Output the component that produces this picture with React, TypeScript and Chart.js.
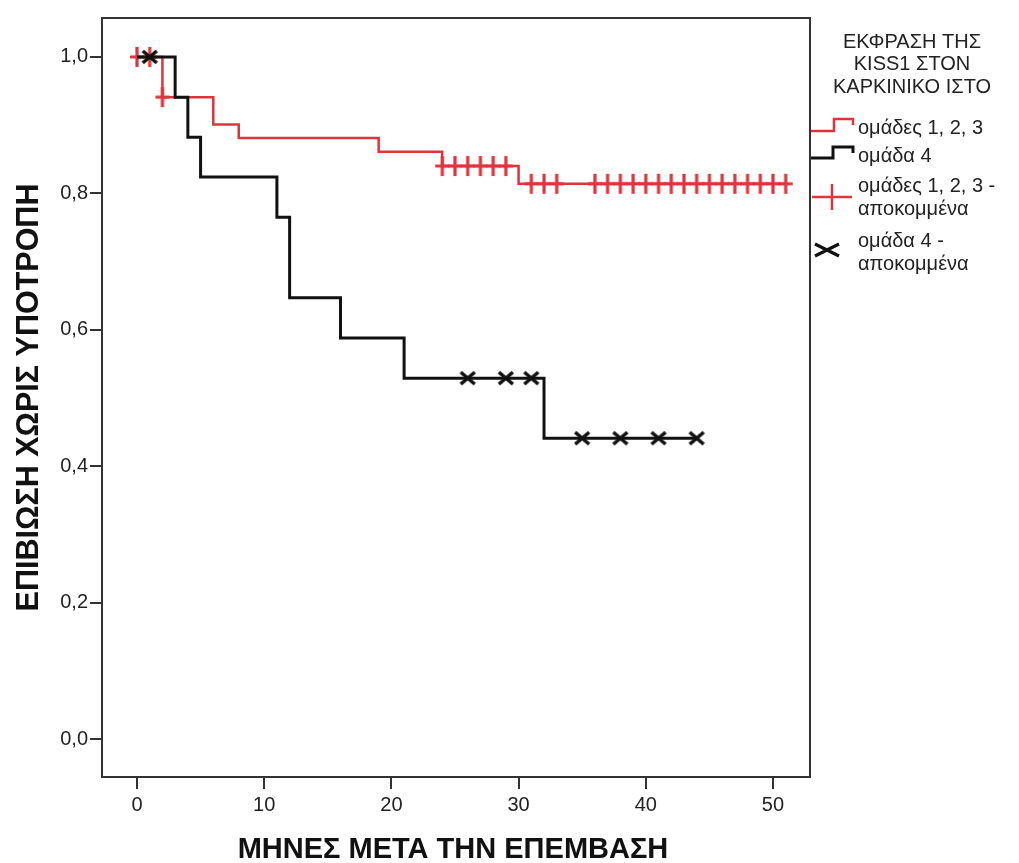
import { useEffect, useRef } from "react";
import { Chart, registerables } from "chart.js";

Chart.register(...registerables);

const xTickValues = [0, 10, 20, 30, 40, 50];
const yTickValues = [0, 0.2, 0.4, 0.6, 0.8, 1.0];

const redTimes = [0, 2, 6, 8, 19, 24, 30, 51];
const redSurvival = [1, 0.941, 0.901, 0.881, 0.861, 0.84, 0.814, 0.814];

const blackTimes = [0, 3, 4, 5, 11, 12, 16, 21, 32, 44];
const blackSurvival = [1, 0.941, 0.882, 0.824, 0.765, 0.647, 0.588, 0.529, 0.441, 0.441];

const redCensorTimes = [0, 1, 2, 24, 25, 26, 27, 28, 29, 31, 32, 33, 36, 37, 38, 39, 40, 41, 42, 43, 44, 45, 46, 47, 48, 49, 50, 51];
const redCensorSurvival = [1, 1, 0.941, 0.84, 0.84, 0.84, 0.84, 0.84, 0.84, 0.814, 0.814, 0.814, 0.814, 0.814, 0.814, 0.814, 0.814, 0.814, 0.814, 0.814, 0.814, 0.814, 0.814, 0.814, 0.814, 0.814, 0.814, 0.814];

const blackCensorTimes = [1, 26, 29, 31, 35, 38, 41, 44];
const blackCensorSurvival = [1, 0.529, 0.529, 0.529, 0.441, 0.441, 0.441, 0.441];

const xAxisTitle = "ΜΗΝΕΣ ΜΕΤΑ ΤΗΝ ΕΠΕΜΒΑΣΗ";
const yAxisTitle = "ΕΠΙΒΙΩΣΗ ΧΩΡΙΣ ΥΠΟΤΡΟΠΗ";
const legendTitleLines = ["ΕΚΦΡΑΣΗ ΤΗΣ", "KISS1 ΣΤΟΝ", "ΚΑΡΚΙΝΙΚΟ ΙΣΤΟ"];
const legendRedLine = "ομάδες 1, 2, 3";
const legendBlackLine = "ομάδα 4";
const legendRedCensor = ["ομάδες 1, 2, 3 -", "αποκομμένα"];
const legendBlackCensor = ["ομάδα 4 -", "αποκομμένα"];

const RED = "rgb(222,52,62)";
const BLACK = "#111";
const FONT = "'Liberation Sans', Arial, sans-serif";

function makePlus(): HTMLCanvasElement {
  const c = document.createElement("canvas");
  c.width = 16;
  c.height = 22;
  const g = c.getContext("2d")!;
  g.strokeStyle = RED;
  g.lineWidth = 3.2;
  g.beginPath();
  g.moveTo(8, 1);
  g.lineTo(8, 21);
  g.moveTo(1, 11);
  g.lineTo(15, 11);
  g.stroke();
  return c;
}

function makeX(): HTMLCanvasElement {
  const c = document.createElement("canvas");
  c.width = 18;
  c.height = 16;
  const g = c.getContext("2d")!;
  g.strokeStyle = BLACK;
  g.lineWidth = 3.6;
  g.beginPath();
  g.moveTo(2, 2);
  g.lineTo(16, 14);
  g.moveTo(16, 2);
  g.lineTo(2, 14);
  g.stroke();
  return c;
}

const pts = (xs: number[], ys: number[]) => xs.map((x, i) => ({ x, y: ys[i] }));

const decorPlugin = {
  id: "decor",
  beforeDatasetsDraw(chart: any) {
    const { ctx, chartArea } = chart;
    ctx.save();
    ctx.strokeStyle = "#333";
    ctx.lineWidth = 2;
    ctx.strokeRect(chartArea.left, chartArea.top, chartArea.right - chartArea.left, chartArea.bottom - chartArea.top);
    ctx.restore();
  },
  afterDraw(chart: any) {
    const { ctx, chartArea } = chart;
    ctx.save();
    ctx.fillStyle = "#111";
    ctx.textAlign = "center";
    ctx.textBaseline = "middle";
    ctx.font = `bold 29px ${FONT}`;
    ctx.fillText(xAxisTitle, (chartArea.left + chartArea.right) / 2 - 3, 850);
    ctx.save();
    ctx.font = `bold 30.5px ${FONT}`;
    ctx.translate(30, (chartArea.top + chartArea.bottom) / 2);
    ctx.rotate(-Math.PI / 2);
    ctx.fillText(yAxisTitle, 0, 0);
    ctx.restore();

    ctx.font = `20px ${FONT}`;
    ctx.fillStyle = "#222";
    legendTitleLines.forEach((t, i) => ctx.fillText(t, 912, 42 + i * 22.7));

    ctx.textAlign = "left";
    const tx = 858;
    ctx.fillText(legendRedLine, tx, 128);
    ctx.fillText(legendBlackLine, tx, 156);
    ctx.fillText(legendRedCensor[0], tx, 186);
    ctx.fillText(legendRedCensor[1], tx, 209);
    ctx.fillText(legendBlackCensor[0], tx, 241);
    ctx.fillText(legendBlackCensor[1], tx, 264);

    ctx.lineWidth = 2.5;
    ctx.strokeStyle = RED;
    ctx.beginPath();
    ctx.moveTo(811, 131);
    ctx.lineTo(834, 131);
    ctx.lineTo(834, 119);
    ctx.lineTo(853, 119);
    ctx.lineTo(853, 125);
    ctx.stroke();

    ctx.lineWidth = 3;
    ctx.strokeStyle = BLACK;
    ctx.beginPath();
    ctx.moveTo(811, 158);
    ctx.lineTo(833, 158);
    ctx.lineTo(833, 147);
    ctx.lineTo(853, 147);
    ctx.lineTo(853, 153);
    ctx.stroke();

    ctx.strokeStyle = RED;
    ctx.lineWidth = 2.5;
    ctx.beginPath();
    ctx.moveTo(812, 197);
    ctx.lineTo(852, 197);
    ctx.moveTo(832, 184);
    ctx.lineTo(832, 210);
    ctx.stroke();

    ctx.strokeStyle = BLACK;
    ctx.lineWidth = 3.2;
    ctx.beginPath();
    ctx.moveTo(815, 244);
    ctx.lineTo(839, 256);
    ctx.moveTo(839, 244);
    ctx.lineTo(815, 256);
    ctx.stroke();

    ctx.restore();
  },
};

export default function App() {
  const ref = useRef<HTMLCanvasElement | null>(null);

  useEffect(() => {
    if (!ref.current) return;
    const plus = makePlus();
    const cross = makeX();
    const chart = new Chart(ref.current, {
      type: "line",
      data: {
        datasets: [
          {
            label: "black-censor",
            data: pts(blackCensorTimes, blackCensorSurvival),
            showLine: false,
            pointStyle: cross as any,
            pointRadius: 8,
            order: 0,
          },
          {
            label: "black",
            data: pts(blackTimes, blackSurvival),
            stepped: true,
            borderColor: BLACK,
            borderWidth: 3,
            pointRadius: 0,
            fill: false,
            order: 1,
          },
          {
            label: "red-censor",
            data: pts(redCensorTimes, redCensorSurvival),
            showLine: false,
            pointStyle: plus as any,
            pointRadius: 8,
            order: 2,
          },
          {
            label: "red",
            data: pts(redTimes, redSurvival),
            stepped: true,
            borderColor: RED,
            borderWidth: 2.5,
            pointRadius: 0,
            fill: false,
            order: 3,
          },
        ],
      },
      options: {
        responsive: false,
        animation: false,
        events: [],
        layout: { padding: { left: 0, top: 18, right: 209, bottom: 0 } },
        plugins: { legend: { display: false }, tooltip: { enabled: false } },
        scales: {
          x: {
            type: "linear",
            min: -2.75,
            max: 52.91,
            afterBuildTicks: (s: any) => {
              s.ticks = xTickValues.map((v) => ({ value: v }));
            },
            afterFit: (s: any) => {
              s.height = 86;
            },
            grid: { display: true, drawOnChartArea: false, drawTicks: true, tickLength: 12, color: "#333", lineWidth: 2 },
            border: { display: false },
            ticks: {
              color: "#222",
              font: { family: FONT, size: 20 },
              padding: 4,
              maxRotation: 0,
              callback: (v: any) => String(v),
            },
          },
          y: {
            type: "linear",
            min: -0.0557,
            max: 1.057,
            afterBuildTicks: (s: any) => {
              s.ticks = yTickValues.map((v) => ({ value: v }));
            },
            afterFit: (s: any) => {
              s.width = 102;
            },
            grid: { display: true, drawOnChartArea: false, drawTicks: true, tickLength: 12, color: "#333", lineWidth: 2 },
            border: { display: false },
            ticks: {
              color: "#222",
              font: { family: FONT, size: 20 },
              padding: 2,
              callback: (v: any) => Number(v).toFixed(1).replace(".", ","),
            },
          },
        },
      },
      plugins: [decorPlugin],
    });
    return () => chart.destroy();
  }, []);

  return (
    <div style={{ position: "fixed", left: 0, top: 0, width: 1019, height: 863, background: "#fff" }}>
      <canvas ref={ref} width={1019} height={863} style={{ display: "block" }} />
    </div>
  );
}
